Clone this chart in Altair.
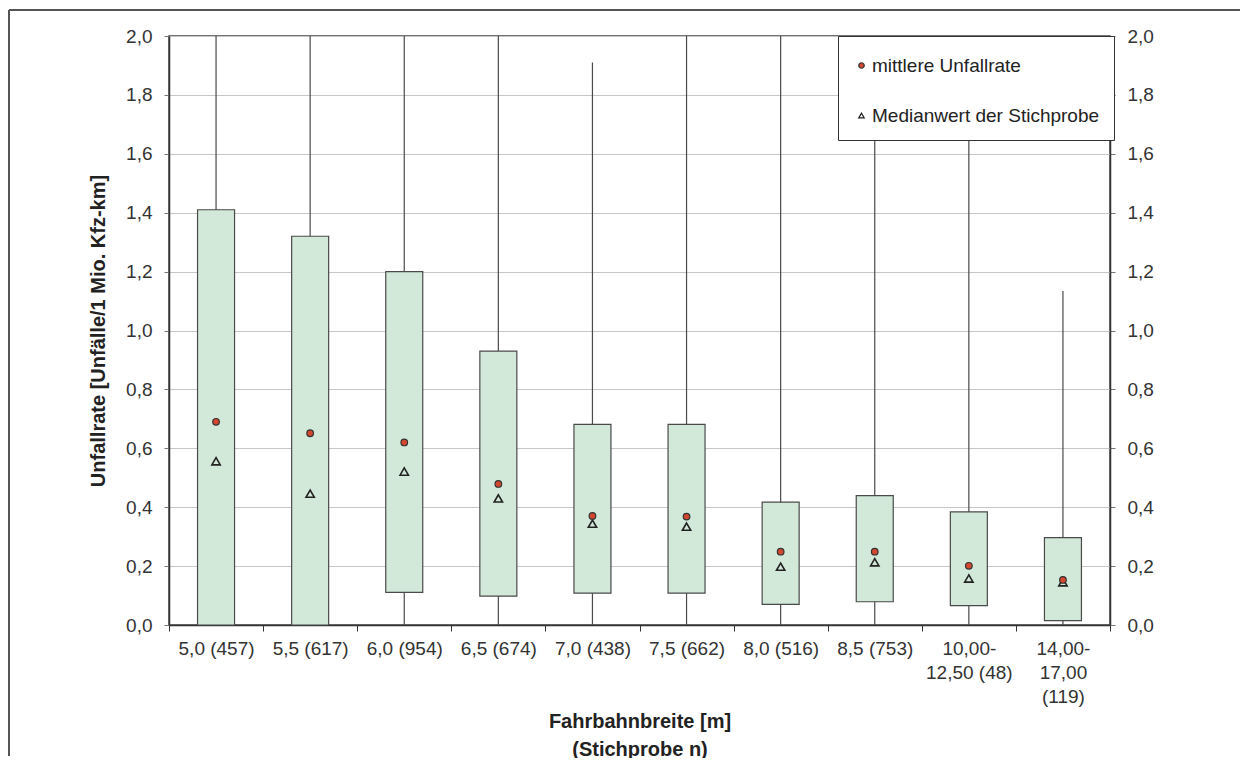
import altair as alt
import pandas as pd

# ---- data ----
categories = ["5,0 (457)", "5,5 (617)", "6,0 (954)", "6,5 (674)", "7,0 (438)",
              "7,5 (662)", "8,0 (516)", "8,5 (753)", "10,00-|12,50 (48)",
              "14,00-|17,00|(119)"]
q1 = [0.0, 0.0, 0.111, 0.098, 0.108, 0.108, 0.070, 0.079, 0.066, 0.015]
q3 = [1.41, 1.32, 1.20, 0.93, 0.681, 0.681, 0.417, 0.439, 0.384, 0.297]
whisker_lo = [0.0, 0.0, 0.0, 0.0, 0.0, 0.0, 0.0, 0.0, 0.0, 0.0]
whisker_hi = [2.0, 2.0, 2.0, 2.0, 1.91, 2.0, 2.0, 2.0, 2.0, 1.134]
mean_rate = [0.690, 0.651, 0.620, 0.479, 0.370, 0.368, 0.249, 0.249, 0.201, 0.153]
median_rate = [0.556, 0.446, 0.521, 0.430, 0.344, 0.334, 0.198, 0.213, 0.158, 0.145]
stat_names = ["mittlere Unfallrate", "Medianwert der Stichprobe"]
y_ticks = [0.0, 0.2, 0.4, 0.6, 0.8, 1.0, 1.2, 1.4, 1.6, 1.8, 2.0]

box_df = pd.DataFrame({"cat": categories, "q1": q1, "q3": q3,
                       "lo": whisker_lo, "hi": whisker_hi})
mean_df = pd.DataFrame({"cat": categories, "stat": stat_names[0], "value": mean_rate})
median_df = pd.DataFrame({"cat": categories, "stat": stat_names[1], "value": median_rate})

FONT = "Liberation Sans"
LINE = "#4a4a4a"
W, H = 941, 589
PAD = {"left": 161, "top": 28, "right": 132, "bottom": 133}
label_expr = "replace(format(datum.value, '.1f'), '.', ',')"
yscale = alt.Scale(domain=[0, 2], nice=False, zero=True)

x_enc = alt.X(
    "cat:N", sort=categories,
    scale=alt.Scale(paddingInner=0, paddingOuter=0),
    axis=alt.Axis(
        title=["Fahrbahnbreite [m]", "(Stichprobe n)"],
        titleFontSize=20, titleFontWeight="bold", titleColor="#222",
        titleBaseline="top", titleY=86, titleLineHeight=28,
        labelExpr="split(datum.label, '|')", labelLineHeight=24,
        labelFontSize=19, labelColor="#333", labelAngle=0, labelPadding=8,
        labelLimit=0, labelOverlap=False, labelBound=False,
        tickSize=6, tickBand="extent", tickColor="#333",
        domainColor="#333", domainWidth=1.5,
    ),
)

left_axis = alt.Axis(
    values=y_ticks, labelExpr=label_expr, labelFontSize=19, labelColor="#333",
    labelPadding=12, tickSize=5, tickColor="#777",
    title="Unfallrate [Unfälle/1 Mio. Kfz-km]", titleFontSize=20,
    titleFontWeight="bold", titleColor="#222", titleAngle=270,
    titleX=-71, titleY=294.5, titleAlign="center", titleBaseline="middle",
    grid=True, gridColor="#c6c6c6", gridWidth=1,
    domainColor="#333", domainWidth=1.5,
)
right_axis = alt.Axis(
    orient="right", values=y_ticks, labelExpr=label_expr, labelFontSize=19,
    labelColor="#333", labelPadding=12, tickSize=5, tickColor="#777",
    title=None, grid=False, domainColor="#333", domainWidth=1.5,
)

whiskers = alt.Chart(box_df).mark_rule(color=LINE, strokeWidth=1.2).encode(
    x=x_enc,
    y=alt.Y("lo:Q", scale=yscale, axis=left_axis),
    y2="hi:Q",
)

boxes = alt.Chart(box_df).mark_bar(
    size=37, fill="#d2e9d9", stroke=LINE, strokeWidth=1.2
).encode(
    x=alt.X("cat:N", sort=categories),
    y=alt.Y("q1:Q", scale=yscale),
    y2="q3:Q",
)

legend_kw = dict(
    orient="none", legendX=669, legendY=0, title=" ", titleFontSize=2,
    titlePadding=4, padding=14, fillColor="white", strokeColor="#333",
    labelFontSize=19, labelFont=FONT, labelColor="#222", labelLimit=400,
    labelOffset=1, symbolSize=30, symbolStrokeWidth=1.2, rowPadding=30,
)
shape_enc = alt.Shape("stat:N", scale=alt.Scale(domain=stat_names,
                      range=["circle", "triangle-up"]),
                      legend=alt.Legend(**legend_kw))
fill_enc = alt.Fill("stat:N", scale=alt.Scale(domain=stat_names,
                    range=["#d4472f", "transparent"]),
                    legend=alt.Legend(**legend_kw))
stroke_enc = alt.Stroke("stat:N", scale=alt.Scale(domain=stat_names,
                        range=["#333333", "#222222"]),
                        legend=alt.Legend(**legend_kw))

mean_pts = alt.Chart(mean_df).mark_point(
    filled=True, size=44, strokeWidth=1.2, opacity=1
).encode(
    x=alt.X("cat:N", sort=categories),
    y=alt.Y("value:Q", scale=yscale),
    shape=shape_enc, fill=fill_enc, stroke=stroke_enc,
)
median_pts = alt.Chart(median_df).mark_point(
    filled=True, size=70, strokeWidth=1.6, opacity=1
).encode(
    x=alt.X("cat:N", sort=categories),
    y=alt.Y("value:Q", scale=yscale),
    shape=shape_enc, fill=fill_enc, stroke=stroke_enc,
)

main = alt.layer(whiskers, boxes, median_pts, mean_pts)

right = alt.Chart(box_df).mark_rule(opacity=0).encode(
    y=alt.Y("q3:Q", scale=yscale, axis=right_axis),
)

# decorative outer frame edges (top and left; the reference's frame runs off the page)
frame_df = pd.DataFrame({"f": [0]})
frame_top = alt.Chart(frame_df).mark_rule(color="#555", strokeWidth=2).encode(
    x=alt.value(-160), x2=alt.value(W + PAD["right"] - 2), y=alt.value(-26),
    y2=alt.value(-26),
)
frame_left = alt.Chart(frame_df).mark_rule(color="#555", strokeWidth=2).encode(
    x=alt.value(-160), x2=alt.value(-160),
    y=alt.value(-26), y2=alt.value(H + PAD["bottom"] - 2),
)

chart = alt.layer(frame_top, frame_left, main, right).resolve_scale(
    y="independent"
).properties(
    width=W, height=H,
    autosize=alt.AutoSizeParams(type="none"),
    padding=PAD,
    background="white",
).configure(font=FONT).configure_view(stroke="#444", strokeWidth=1.5)

chart.save("out.html", embed_options={"renderer": "svg", "actions": False})
